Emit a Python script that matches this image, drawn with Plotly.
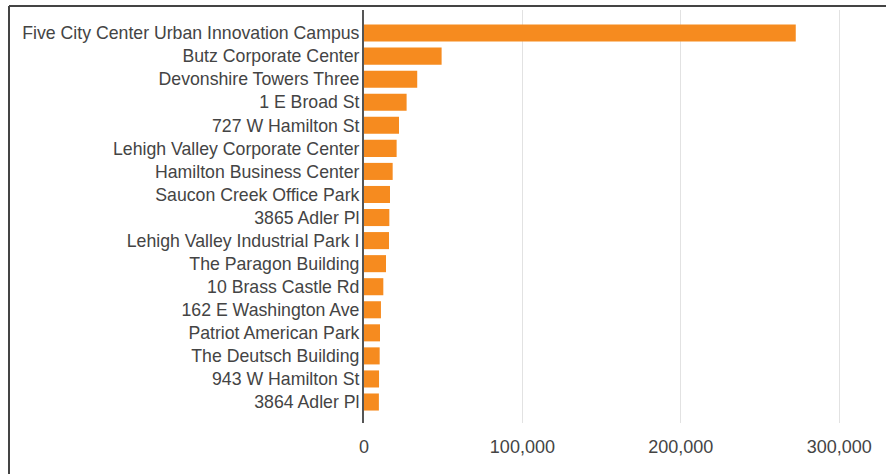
import plotly.graph_objects as go

# Office buildings ranked by size (top to bottom)
buildings = [
    "Five City Center Urban Innovation Campus",
    "Butz Corporate Center",
    "Devonshire Towers Three",
    "1 E Broad St",
    "727 W Hamilton St",
    "Lehigh Valley Corporate Center",
    "Hamilton Business Center",
    "Saucon Creek Office Park",
    "3865 Adler Pl",
    "Lehigh Valley Industrial Park I",
    "The Paragon Building",
    "10 Brass Castle Rd",
    "162 E Washington Ave",
    "Patriot American Park",
    "The Deutsch Building",
    "943 W Hamilton St",
    "3864 Adler Pl",
]
square_feet = [
    272600, 49000, 33600, 26900, 22100, 20600, 18100, 16400, 16000,
    15800, 13900, 12200, 10700, 10100, 9900, 9500, 9400,
]
x_ticks = [0, 100000, 200000, 300000]
x_tick_labels = ["0", "100,000", "200,000", "300,000"]

BAR_COLOR = "#F68B1F"
TEXT_COLOR = "#444444"
FONT = "Liberation Sans, Arial, sans-serif"

fig = go.Figure(
    go.Bar(
        x=square_feet,
        y=buildings,
        orientation="h",
        marker=dict(color=BAR_COLOR, line=dict(width=0)),
        width=0.74,
    )
)

fig.update_layout(
    width=886,
    height=474,
    margin=dict(l=364, r=31, t=10, b=51),
    paper_bgcolor="white",
    plot_bgcolor="white",
    showlegend=False,
    font=dict(family=FONT, size=17.7, color=TEXT_COLOR),
    xaxis=dict(
        range=[0, 310000],
        tickvals=x_ticks,
        ticktext=x_tick_labels,
        showgrid=True,
        gridcolor="#e2e2e2",
        gridwidth=1,
        zeroline=False,
        showline=False,
        ticks="",
        ticklabelstandoff=11,
        tickfont=dict(size=18, color=TEXT_COLOR),
        fixedrange=True,
    ),
    yaxis=dict(
        type="category",
        categoryorder="array",
        categoryarray=buildings,
        range=[16.91, -1.0],
        showgrid=False,
        zeroline=False,
        showline=True,
        linecolor="#555555",
        linewidth=2,
        ticks="",
        ticklabelstandoff=-1,
        tickfont=dict(size=17.7, color=TEXT_COLOR),
        fixedrange=True,
    ),
    shapes=[
        # frame around the chart (top and left edges)
        dict(type="line", xref="paper", yref="paper",
             x0=-355 / 491, x1=1.1, y0=1 + 4 / 413, y1=1 + 4 / 413,
             line=dict(color="#444444", width=2)),
        dict(type="line", xref="paper", yref="paper",
             x0=-355 / 491, x1=-355 / 491, y0=1 + 4 / 413, y1=-0.2,
             line=dict(color="#444444", width=2)),
    ],
)

fig.write_html("out.html", config={"displayModeBar": False})
